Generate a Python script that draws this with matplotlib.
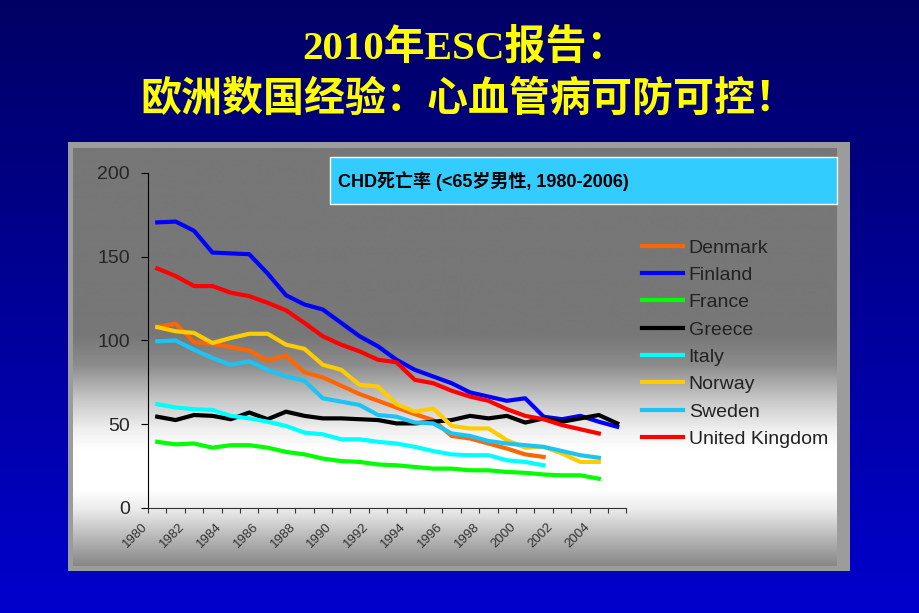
import numpy as np
import matplotlib
matplotlib.use('Agg')
import matplotlib.pyplot as plt
from matplotlib.patches import Rectangle
from matplotlib.transforms import ScaledTranslation

plt.rcParams['font.family'] = ['Liberation Sans', 'Noto Sans CJK SC', 'DejaVu Sans']

# CHD mortality, men < 65, per 100 000
years = list(range(1980, 2006))
denmark = [108, 110, 99, 98, 96, 94, 88, 91, 81, 78, 73, 68, 64, 60, 56, 52.5,
           43, 41.5, 38.5, 35.5, 32, 30.5]
finland = [170.5, 171, 165.5, 152.5, 152, 151.5, 140, 127, 121.5, 118.5, 110.5,
           102.5, 96.5, 88.5, 82.5, 78.5, 74.5, 69, 66.5, 64, 65.5, 54.5, 53, 55,
           51.5, 48.5]
france = [39.5, 38, 38.5, 36, 37.5, 37.5, 36, 33.5, 32, 29.5, 28, 27.5, 26, 25.5,
          24.5, 23.5, 23.5, 22.5, 22.5, 21.5, 21, 20, 19.5, 19.5, 17.5]
greece = [54.5, 52.5, 55.5, 55, 53, 57, 53, 57.5, 55, 53.5, 53.5, 53, 52.5, 50.5,
          50.5, 51.5, 52.5, 55, 53.5, 55, 51, 53.5, 51.5, 53.5, 55.5, 50.5]
italy = [62, 60, 59, 58.5, 55, 53.5, 51.5, 49, 45, 44, 41, 41, 39.5, 38.5, 36.5,
         34, 32, 31.5, 31.5, 28.5, 27.5, 25.5]
norway = [108, 105.5, 104.5, 98.5, 101.5, 104, 104, 97.5, 95, 85.5, 82.5, 73.5,
          72.5, 62, 57.5, 59.5, 49, 47.5, 47.5, 40.5, 36, 36.5, 32.5, 27.5, 27.5]
sweden = [99.5, 100, 94.5, 89.5, 85.5, 87.5, 82.5, 78.5, 76, 65.5, 63.5, 61.5,
          55.5, 54.5, 51, 50.5, 44.5, 43, 40, 38.5, 37.5, 36.5, 34, 31.5, 30]
uk = [143, 138.5, 132.5, 132.5, 128.5, 126.5, 122.5, 118, 110.5, 102.5, 97.5,
      93.5, 88.5, 87, 76.5, 74.5, 70, 66.5, 64, 59, 55, 53, 49.5, 47, 44.5]

countries = ['Denmark', 'Finland', 'France', 'Greece', 'Italy', 'Norway',
             'Sweden', 'United Kingdom']
series = [denmark, finland, france, greece, italy, norway, sweden, uk]
colors = ['#FF6600', '#0000FF', '#00FF00', '#000000', '#00FFFF', '#FFCC00',
          '#1CC4F4', '#FF0000']

fig = plt.figure(figsize=(9.2, 6.13), dpi=100)

# slide background, panel and caption box (pixel coordinates)
bg = fig.add_axes([0, 0, 1, 1])
bg.set_xlim(0, 920)
bg.set_ylim(613, 0)
bg.axis('off')

t = np.linspace(0, 1, 613)
slide = np.zeros((613, 1, 3))
slide[:, 0, 2] = (100 + 105 * t) / 255
bg.imshow(slide, extent=(0, 920, 613, 0), aspect='auto', zorder=0)

bg.add_patch(Rectangle((68, 142), 782, 429, fc='#9c9c9c', ec='none', zorder=1))
yy = np.arange(148, 567)
grey = np.interp(yy, [148, 335, 365, 400, 430, 450, 490, 510, 540, 566],
                 [119, 119, 140, 200, 240, 255, 255, 235, 180, 135]) / 255
panel = np.repeat(grey[:, None, None], 3, axis=2)
bg.imshow(panel, extent=(73, 837, 566, 148), aspect='auto', zorder=2)

bg.add_patch(Rectangle((330, 157), 507, 47, fc='#33CCFF', ec='white', lw=1, zorder=3))
bg.text(338, 181, 'CHD死亡率 (<65岁男性, 1980-2006)', fontsize=13,
        fontweight='bold', va='center', ha='left', color='black', zorder=4)

bg.text(465, 48, '2010年ESC报告：', fontsize=29.5, fontweight='bold', color='#FFFF00',
        ha='center', va='center', family=['Liberation Serif', 'Noto Sans CJK SC'])
bg.text(468, 99, '欧洲数国经验：心血管病可防可控！', fontsize=29.5, fontweight='bold',
        color='#FFFF00', ha='center', va='center', family=['Noto Sans CJK SC'])

# chart
ax = fig.add_axes([0.1609, 0.1713, 0.52, 0.5465])
ax.patch.set_alpha(0)
for name, vals, c in zip(countries, series, colors):
    x = np.arange(len(vals)) + 0.5
    ax.plot(x, vals, color=c, lw=3, label=name, solid_joinstyle='round')

ax.set_xlim(0, 26)
ax.set_ylim(0, 200)
ax.spines['top'].set_visible(False)
ax.spines['right'].set_visible(False)
ax.spines['left'].set_color('black')
ax.spines['bottom'].set_color('#333333')
ax.set_yticks([0, 50, 100, 150, 200])
ax.tick_params(axis='y', length=5, pad=8, labelsize=14, labelcolor='#262626')
ax.set_xticks(range(27))
ax.set_xticklabels([str(years[i]) if i % 2 == 0 and i < 25 else '' for i in range(27)])
ax.tick_params(axis='x', length=3.5, pad=6, labelsize=9.5, labelcolor='#333333',
               color='#333333')
shift = ScaledTranslation(-6 / 100, 0, fig.dpi_scale_trans)
for lbl in ax.get_xticklabels():
    lbl.set_rotation(45)
    lbl.set_ha('right')
    lbl.set_va('top')
    lbl.set_rotation_mode('anchor')
    lbl.set_transform(lbl.get_transform() + shift)

leg = ax.legend(loc='upper left', bbox_to_anchor=(642 / 920, 1 - 239 / 613),
                bbox_transform=fig.transFigure, frameon=False, fontsize=14,
                handlelength=2.1, handletextpad=0.3, labelspacing=0.5,
                borderpad=0, borderaxespad=0)
for txt in leg.get_texts():
    txt.set_color('#222222')

fig.savefig('out.png', dpi=100)
